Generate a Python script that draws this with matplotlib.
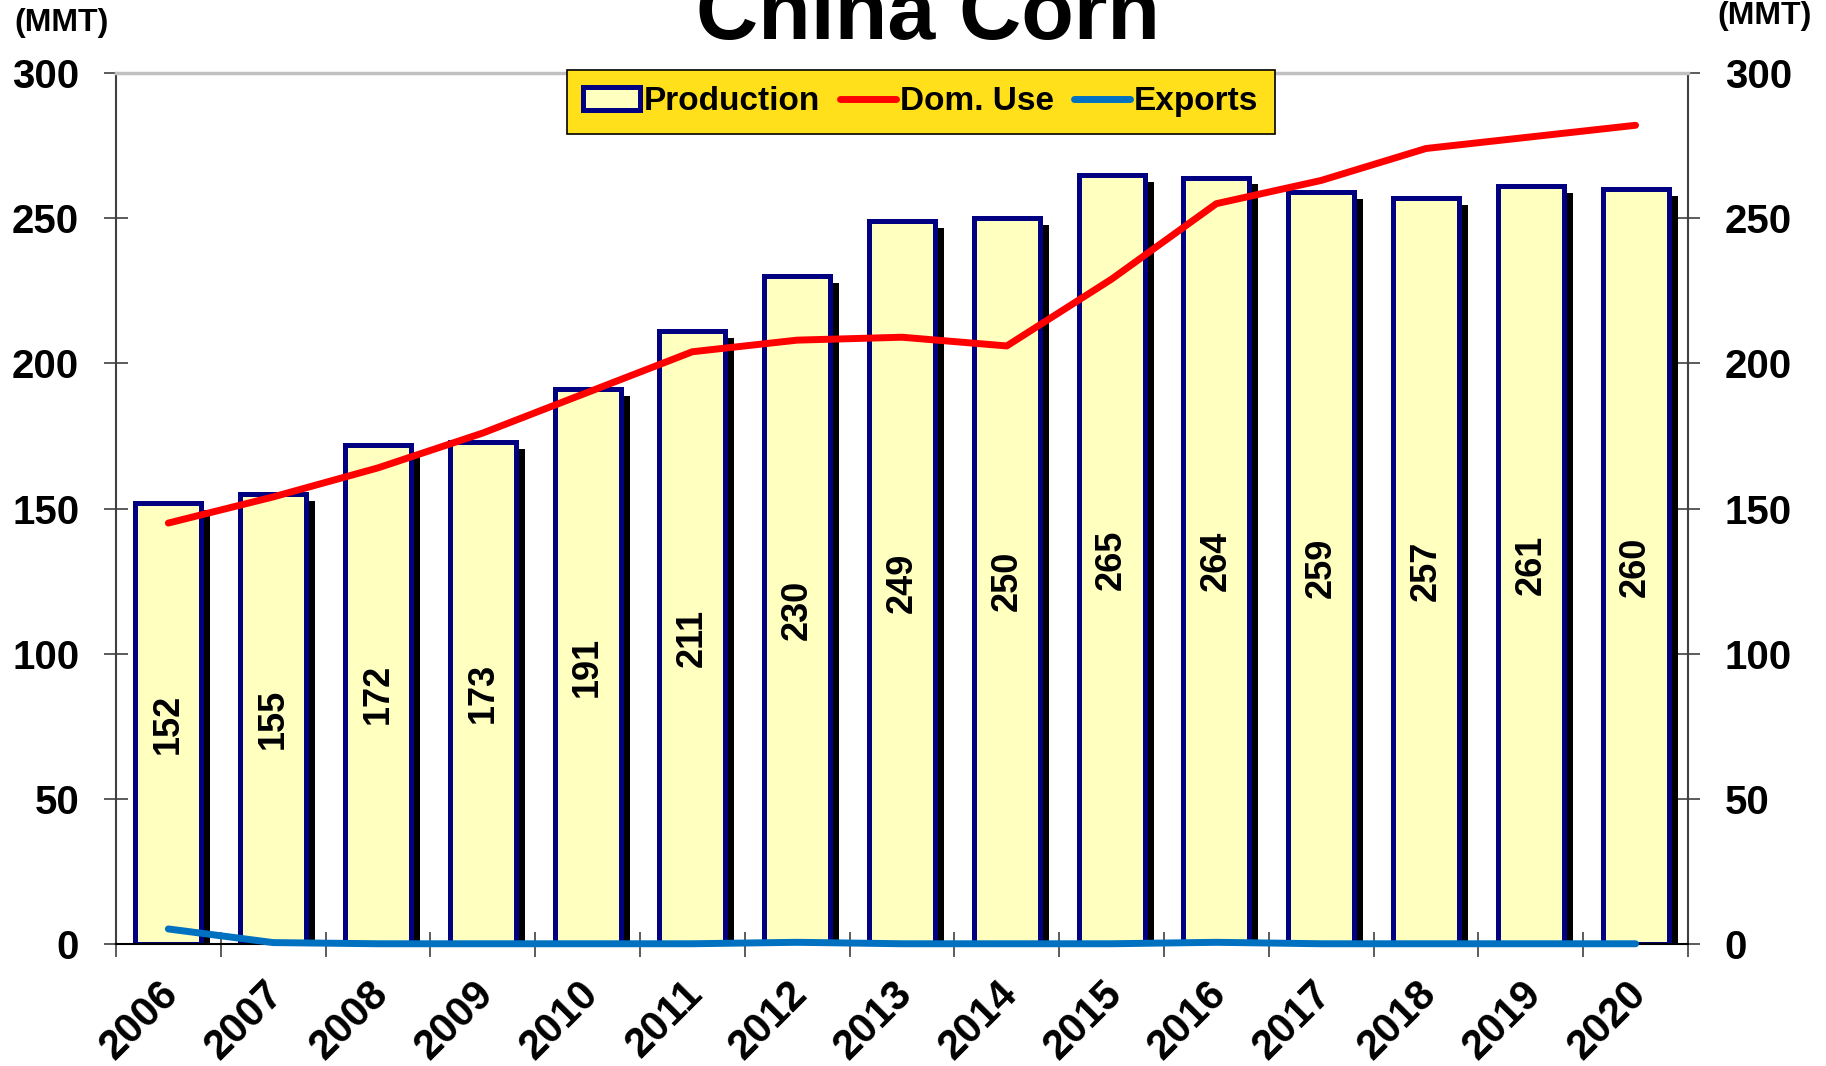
import numpy as np
import matplotlib.pyplot as plt
from matplotlib.patches import Rectangle
from matplotlib.lines import Line2D
from matplotlib.transforms import ScaledTranslation
import matplotlib.patheffects as pe

plt.rcParams['font.family'] = ['Liberation Sans', 'DejaVu Sans']
plt.rcParams['font.weight'] = 'bold'

# data (MMT)
years = ['2006', '2007', '2008', '2009', '2010', '2011', '2012', '2013',
         '2014', '2015', '2016', '2017', '2018', '2019', '2020']
production = [152, 155, 172, 173, 191, 211, 230, 249, 250, 265, 264, 259, 257, 261, 260]
dom_use = [145, 154, 164, 176, 190, 204, 208, 209, 206, 229, 255, 263, 274, 278, 282]
exports = [5.2, 0.5, 0.1, 0.1, 0.1, 0.1, 0.6, 0.1, 0.1, 0.1, 0.6, 0.1, 0.1, 0.1, 0.1]

BAR_FACE = '#FFFFC0'
BAR_EDGE = '#000080'
RED = '#FF0000'
BLUE = '#0070C0'
LEGEND_FACE = '#FFE01B'

fig = plt.figure(figsize=(18.26, 10.66), dpi=100)
ax = fig.add_axes([0.0635, 0.1144, 0.8609, 0.8171])

x = np.arange(len(years))

bars = ax.bar(x, production, width=0.63, color=BAR_FACE, edgecolor=BAR_EDGE,
              linewidth=3.6, zorder=2)
for b in bars:
    b.set_path_effects([pe.SimplePatchShadow(offset=(6.5, -5), shadow_rgbFace='black', alpha=1.0),
                        pe.Normal()])

ax.bar_label(bars, labels=[str(v) for v in production], label_type='center',
             rotation=90, fontsize=26, fontweight='bold', color='black')

ax.plot(x, dom_use, color=RED, linewidth=5, solid_capstyle='round',
        solid_joinstyle='round', zorder=4)
ax.plot(x, exports, color=BLUE, linewidth=5, solid_capstyle='round',
        solid_joinstyle='round', zorder=4, clip_on=False)

ax.set_xlim(-0.5, len(years) - 0.5)
ax.set_ylim(0, 300)

# y axis, labels on both sides
ax.set_yticks(np.arange(0, 301, 50))
ax.yaxis.set_ticks_position('both')
ax.tick_params(axis='y', direction='inout', length=17, width=1.2, color='#404040',
               labelsize=29, pad=18, labelright=True)

# x axis: ticks between years, labels at year centres
ax.set_xticks(np.arange(-0.5, len(years), 1.0))
ax.set_xticklabels([])
ax.tick_params(axis='x', which='major', direction='inout', length=18, width=1.2,
               color='#404040')
ax.set_xticks(x, minor=True)
ax.set_xticklabels(years, minor=True, rotation=45, ha='right', va='top',
                   rotation_mode='anchor', fontsize=30, fontweight='bold')
ax.tick_params(axis='x', which='minor', length=0, pad=21)
shift = ScaledTranslation(-10 / 100, 0, fig.dpi_scale_trans)
for lbl in ax.get_xticklabels(minor=True):
    lbl.set_transform(lbl.get_transform() + shift)

for side in ['left', 'right']:
    ax.spines[side].set_color('#404040')
    ax.spines[side].set_linewidth(1.5)
ax.spines['top'].set_color('#C0C0C0')
ax.spines['top'].set_linewidth(2.5)
ax.spines['bottom'].set_color('black')
ax.spines['bottom'].set_linewidth(1.5)

handles = [Rectangle((0, 0), 1, 1, facecolor=BAR_FACE, edgecolor=BAR_EDGE, linewidth=3.6),
           Line2D([], [], color=RED, linewidth=5, solid_capstyle='round'),
           Line2D([], [], color=BLUE, linewidth=5, solid_capstyle='round')]
leg = ax.legend(handles, ['Production', 'Dom. Use', 'Exports'], ncol=3,
                loc='upper center', bbox_to_anchor=(0.512, 1.004),
                prop={'size': 24, 'weight': 'bold'}, frameon=True, fancybox=False,
                facecolor=LEGEND_FACE, edgecolor='black', framealpha=1,
                handlelength=1.7, handleheight=0.7, handletextpad=0.1,
                columnspacing=0.6, borderpad=0.5, borderaxespad=0)
leg.get_frame().set_linewidth(1.2)
leg.set_zorder(6)

fig.text(928 / 1826, 1 - 39 / 1066, 'China Corn', ha='center', va='baseline',
         fontsize=62, fontweight='bold')
fig.text(14 / 1826, 1 - 31 / 1066, '(MMT)', ha='left', va='baseline',
         fontsize=23, fontweight='bold')
fig.text(1812 / 1826, 1 - 24 / 1066, '(MMT)', ha='right', va='baseline',
         fontsize=23, fontweight='bold')

fig.savefig('out.png', dpi=100)
